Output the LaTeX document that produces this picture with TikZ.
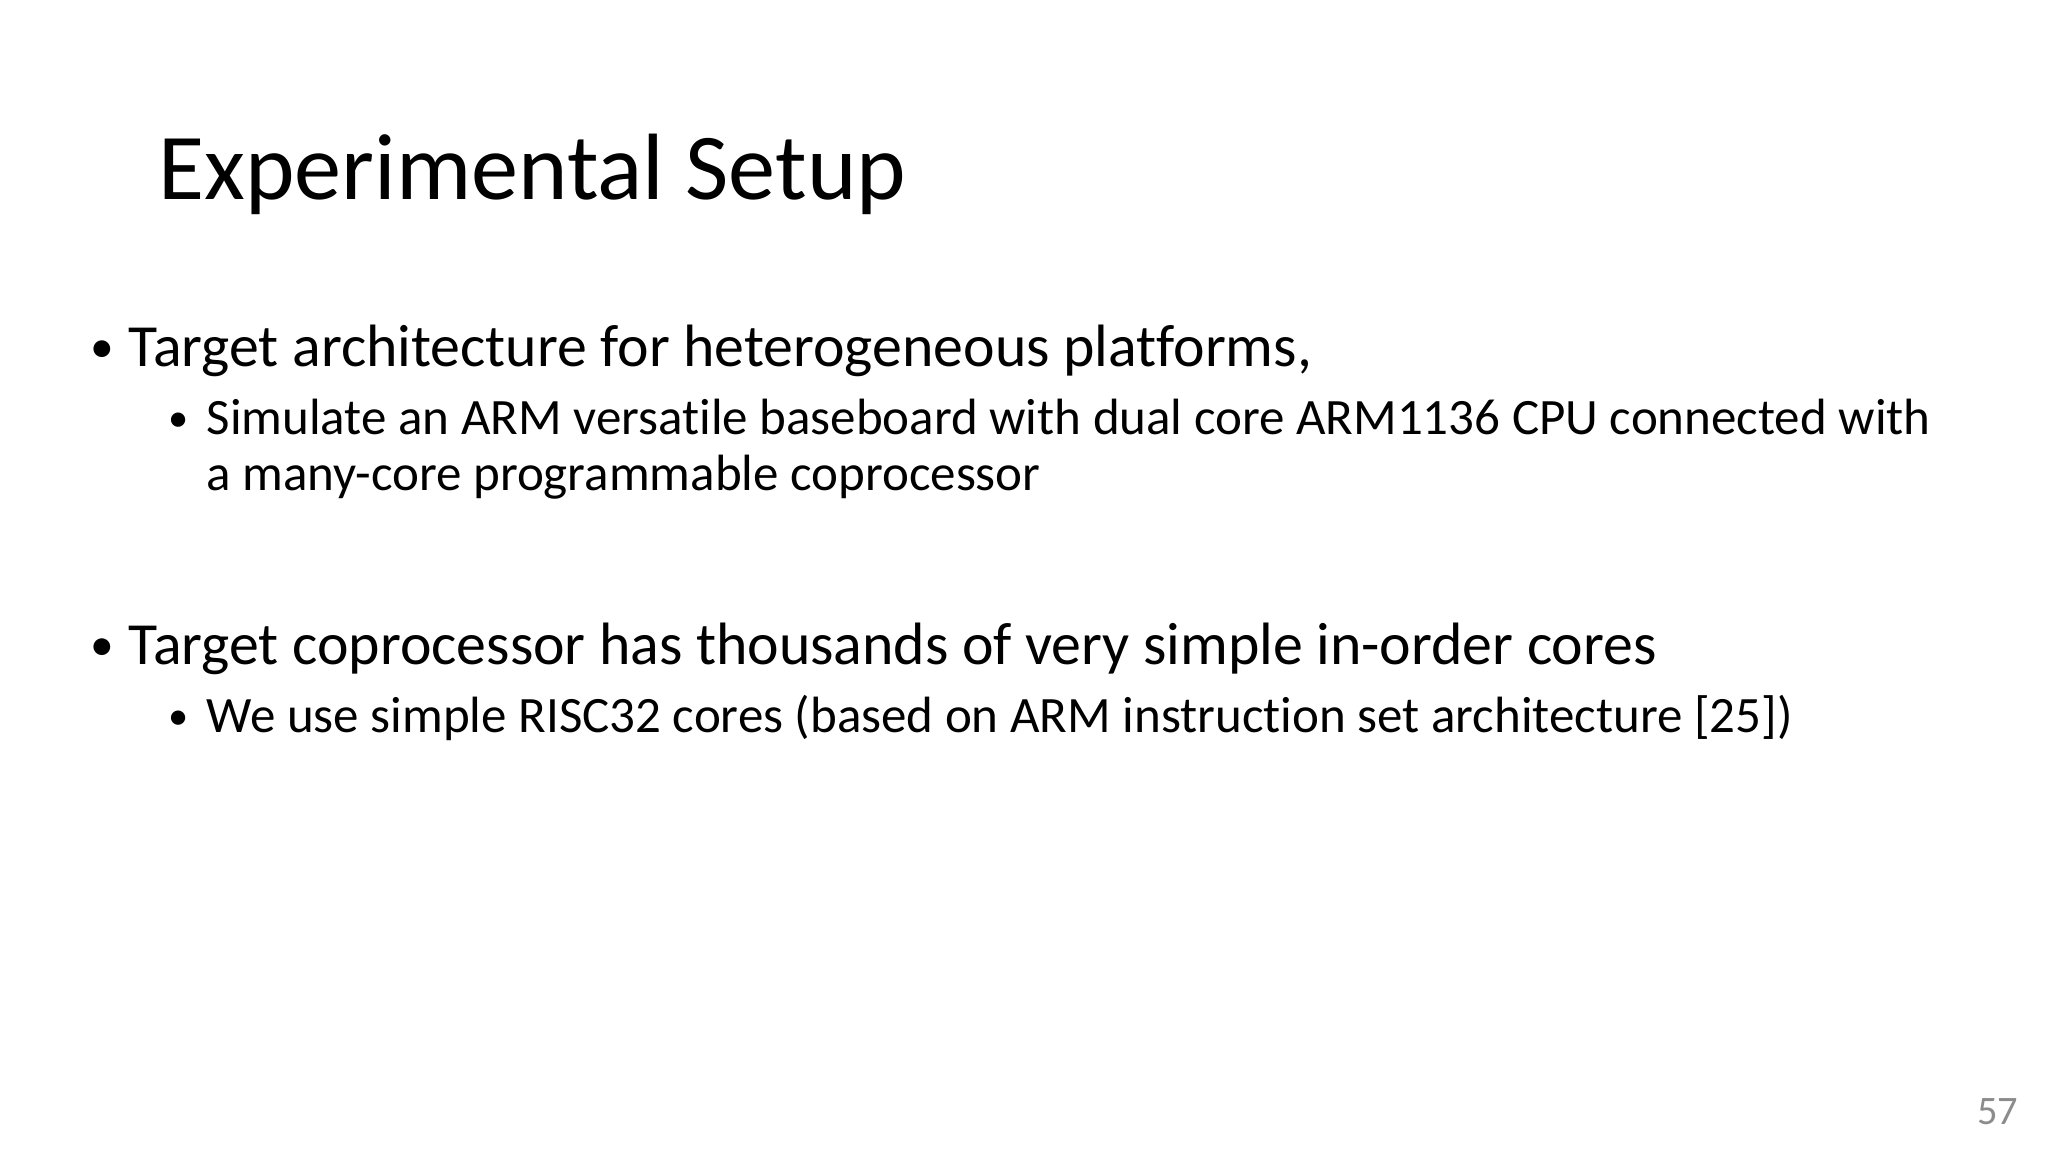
\documentclass[tikz,border=0pt]{standalone}
\usepackage{fontspec}
\setmainfont{Carlito}[Ligatures=NoCommon]
\begin{document}
\begin{tikzpicture}[x=0.01cm,y=-0.01cm,
  every node/.style={inner sep=0pt,anchor=base west},
  title/.style={font=\fontsize{26.8}{33}\selectfont},
  lvl1/.style={font=\fontsize{17.0}{22}\selectfont},
  lvl2/.style={font=\fontsize{14.5}{20}\selectfont},
  dot1/.style={font=\fontsize{13.5}{16}\selectfont},
  dot2/.style={font=\fontsize{11.5}{14}\selectfont},
  pnum/.style={font=\fontsize{11.5}{14}\selectfont,text=black!45,anchor=base east}]
\useasboundingbox (0,0) rectangle (2048,1152);
\node[title] (t) at (158,200) {Experimental Setup};
\node[dot1] (b1d) at (90,363) {•};
\node[lvl1] (b1) at (128,367) {Target architecture for heterogeneous platforms,};
\node[dot2] (s1d) at (168,432) {•};
\node[lvl2] (s1) at (206,435) {Simulate an ARM versatile baseboard with dual core ARM1136 CPU connected with};
\node[lvl2] (s1b) at (206,491) {a many-core programmable coprocessor};
\node[dot1] (b2d) at (90,660) {•};
\node[lvl1] (b2) at (128,664) {Target coprocessor has thousands of very simple in-order cores};
\node[dot2] (s2d) at (168,729) {•};
\node[lvl2] (s2) at (206,732) {We use simple RISC32 cores (based on ARM instruction set architecture [25])};
\node[pnum] (pn) at (2019,1124) {57};
\end{tikzpicture}
\end{document}
